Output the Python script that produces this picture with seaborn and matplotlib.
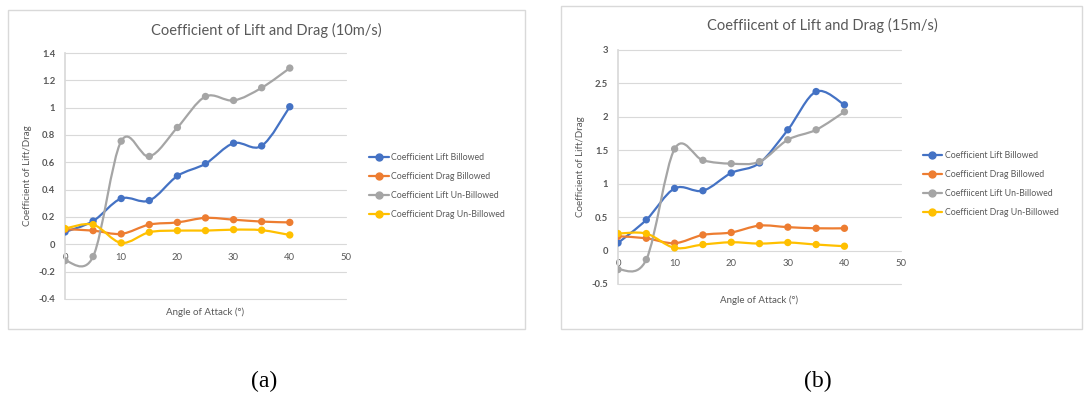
import matplotlib
matplotlib.use("Agg")
import matplotlib.pyplot as plt
from matplotlib.path import Path
from matplotlib.patches import PathPatch, Rectangle
from matplotlib.lines import Line2D
import seaborn as sns
import numpy as np
import pandas as pd

# angle of attack (deg)
angles = [0, 5, 10, 15, 20, 25, 30, 35, 40]

# (a) 10 m/s
lift_billowed_10 = [0.09, 0.17, 0.335, 0.32, 0.50, 0.59, 0.74, 0.72, 1.007]
drag_billowed_10 = [0.11, 0.10, 0.076, 0.144, 0.16, 0.193, 0.18, 0.166, 0.16]
lift_unbillowed_10 = [-0.12, -0.09, 0.755, 0.643, 0.855, 1.082, 1.053, 1.146, 1.29]
drag_unbillowed_10 = [0.115, 0.144, 0.01, 0.088, 0.10, 0.10, 0.107, 0.103, 0.068]

# (b) 15 m/s
lift_billowed_15 = [0.114, 0.46, 0.93, 0.895, 1.16, 1.31, 1.806, 2.378, 2.18]
drag_billowed_15 = [0.214, 0.184, 0.11, 0.234, 0.27, 0.373, 0.35, 0.333, 0.333]
lift_unbillowed_15 = [-0.284, -0.134, 1.52, 1.35, 1.30, 1.33, 1.657, 1.806, 2.075]
drag_unbillowed_15 = [0.254, 0.254, 0.04, 0.09, 0.124, 0.104, 0.12, 0.09, 0.065]

labels_a = ["Coefficient Lift Billowed", "Coefficient Drag Billowed",
            "Coefficient Lift Un-Billowed", "Coefficient Drag Un-Billowed"]
labels_b = ["Coefficient Lift Billowed", "Coefficient Drag Billowed",
            "Coeffiicent Lift Un-Billowed", "Coefficient Drag Un-Billowed"]
colors = ["#4472C4", "#ED7D31", "#A5A5A5", "#FFC000"]

sns.set_theme(style="white")
plt.rcParams['font.family'] = ['Lato', 'DejaVu Sans']
TXT = "#595959"


def smooth_path(x, y):
    # excel-like smoothed line: cubic bezier through the points
    x = np.asarray(x, float)
    y = np.asarray(y, float)
    pts = np.column_stack([x, y])
    verts = [pts[0]]
    codes = [Path.MOVETO]
    n = len(pts)
    for i in range(n - 1):
        p0 = pts[i - 1] if i > 0 else pts[i]
        p1 = pts[i]
        p2 = pts[i + 1]
        p3 = pts[i + 2] if i + 2 < n else pts[i + 1]
        c1 = p1 + (p2 - p0) / 6
        c2 = p2 - (p3 - p1) / 6
        verts += [c1, c2, p2]
        codes += [Path.CURVE4] * 3
    return Path(verts, codes)


def draw_chart(ax, series, labels, title, ylim, ystep, legend_pos, title_xy, xlab_y):
    df = pd.DataFrame({"angle": angles})
    for lab, vals in zip(labels, series):
        df[lab] = vals
    long = df.melt(id_vars="angle", var_name="series", value_name="value")
    for lab, col in zip(labels, colors):
        ax.add_patch(PathPatch(smooth_path(df["angle"], df[lab]), facecolor="none",
                               edgecolor=col, lw=1.6, zorder=3))
    sns.scatterplot(data=long, x="angle", y="value", hue="series", palette=colors,
                    hue_order=labels, s=28, edgecolor="none", legend=False, ax=ax, zorder=4)

    yt = np.arange(ylim[0], ylim[1] + 1e-9, ystep)
    ax.set_xlim(0, 50)
    ax.set_ylim(*ylim)
    ax.set_xticks(np.arange(0, 51, 10))
    ax.set_yticks(yt)
    ax.set_yticklabels([f"{round(v, 2):g}" for v in yt])
    ax.grid(False)
    for v in yt:
        ax.axhline(v, color="#d9d9d9", lw=0.8, zorder=1, clip_on=False)
    for s in ["top", "right", "bottom"]:
        ax.spines[s].set_visible(False)
    ax.spines["left"].set_color("#d9d9d9")
    ax.tick_params(axis="both", length=0, labelsize=6.8, colors=TXT)
    ax.tick_params(axis="y", pad=7)
    for lbl in ax.get_xticklabels() + ax.get_yticklabels():
        lbl.set_fontweight("bold")
    # x tick labels sit just below the zero line, as in excel
    ax.spines["bottom"].set_position(("data", 0))
    ax.tick_params(axis="x", pad=6)
    ax.set_xlabel("Angle of Attack (°)", fontsize=7, color=TXT)
    ax.xaxis.set_label_coords(0.5, xlab_y)
    ax.set_ylabel("Coefficient of Lift/Drag", fontsize=7, color=TXT, labelpad=5)
    fig.text(title_xy[0], title_xy[1], title, fontsize=10.5, color=TXT,
             ha="center", va="center")

    handles = [Line2D([], [], color=c, marker="o", ms=5, lw=1.6) for c in colors]
    fig.legend(handles, labels, loc="center left", bbox_to_anchor=legend_pos,
               frameon=False, fontsize=6.3, handlelength=2.2, handletextpad=0.3,
               labelspacing=1.15, labelcolor=TXT)


fig = plt.figure(figsize=(10.89, 4.05), dpi=100)

ax_a = fig.add_axes([0.0597, 0.262, 0.258, 0.607])
ax_b = fig.add_axes([0.5675, 0.2988, 0.2599, 0.5778])

draw_chart(ax_a, [lift_billowed_10, drag_billowed_10, lift_unbillowed_10, drag_unbillowed_10],
           labels_a, "Coefficient of Lift and Drag (10m/s)", (-0.4, 1.4), 0.2,
           (0.332, 0.54), (266 / 1089, 1 - 30 / 405), -0.035)
draw_chart(ax_b, [lift_billowed_15, drag_billowed_15, lift_unbillowed_15, drag_unbillowed_15],
           labels_b, "Coeffiicent of Lift and Drag (15m/s)", (-0.5, 3.0), 0.5,
           (0.840, 0.545), (822 / 1089, 1 - 25 / 405), -0.05)

# chart area borders
fig.add_artist(Rectangle((8 / 1089, 1 - 329 / 405), 517 / 1089, 319 / 405,
                         transform=fig.transFigure, fill=False, ec="#d9d9d9", lw=1))
fig.add_artist(Rectangle((561 / 1089, 1 - 329 / 405), 521 / 1089, 323 / 405,
                         transform=fig.transFigure, fill=False, ec="#d9d9d9", lw=1))

# sub-figure captions
fig.text(264 / 1089, 1 - 381 / 405, "(a)", family="Liberation Serif", fontsize=17,
         ha="center", va="center", color="black")
fig.text(818 / 1089, 1 - 381 / 405, "(b)", family="Liberation Serif", fontsize=17,
         ha="center", va="center", color="black")

fig.savefig("out.png", dpi=100, facecolor="white")
